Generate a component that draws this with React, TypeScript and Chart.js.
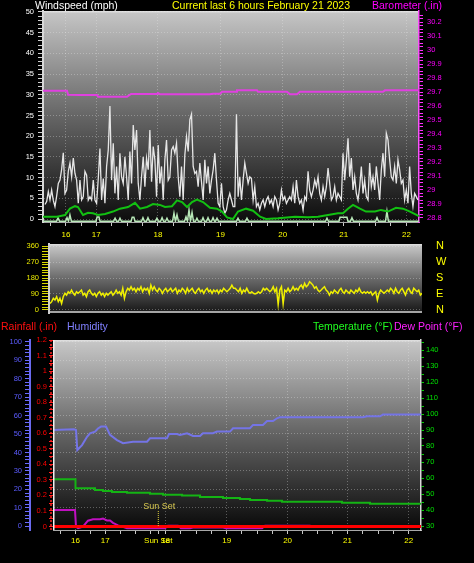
import React, { useEffect, useRef } from 'react';
import { Chart, registerables } from 'chart.js';

Chart.register(...registerables);

const FONT = '"Liberation Sans", Arial, Helvetica, sans-serif';

// ---------- shared time axis (sample index over the last 6 hours) ----------
const xMin = 0;
const xMax = 360;
const hourTickIdx = [22, 51, 110, 170, 229.5, 288, 348];
const hourLabels = ['16', '17', '18', '19', '20', '21', '22'];
const sunsetIdx = 103;
const sunsetLabel = 'Sun Set';

// ---------- panel 1: wind speed & barometer ----------
const windTicks = [0, 5, 10, 15, 20, 25, 30, 35, 40, 45, 50];
const baroTicks = [28.8, 28.9, 29, 29.1, 29.2, 29.3, 29.4, 29.5, 29.6, 29.7, 29.8, 29.9, 30, 30.1, 30.2];

const gustStartIdx = 1.9;
const gustEndIdx = 359;
const gustMph = [
  3.5, 4.2, 6.6, 4.6, 7, 4.5, 3, 5.5, 8.6, 9.4,
  12, 16, 6.2, 7, 11.5, 13.5, 10.2, 14.7, 11, 9.4,
  3.8, 9.4, 4.6, 5.4, 11.5, 10.6, 4.6, 5.4, 4.6, 9.4,
  4.6, 3.8, 9.8, 17, 4.6, 9.8, 3.8, 12.7, 16.7, 27.3,
  9.4, 18.3, 6.2, 12.7, 4.6, 15.9, 10.2, 8.6, 15, 10.2,
  4.6, 16.3, 8.6, 22.7, 16.7, 21.5, 8.6, 4.6, 10.2, 15,
  7.8, 14.7, 11.9, 21.5, 9, 17.5, 14.3, 5.4, 17.9, 8.6,
  12.7, 4.6, 14.3, 19.1, 9.4, 10.2, 16.7, 17.5, 15.9, 18.3,
  10.2, 5.4, 12.7, 4.6, 15.5, 19.9, 16.3, 24, 25.3, 12.7,
  11, 11.5, 7.8, 13.5, 9, 4.6, 14.3, 8.6, 12.7, 6.2,
  9.4, 11.9, 15.9, 9.4, 3.8, 3, 8.6, 3, 1.4, 2.2,
  4.6, 6.2, 4.6, 3,
  3, 25.3, 5.4, 10.2, 4.6, 9.4, 13.5, 11, 8.6, 10.2,
  9.8, 4.6, 7.8, 3, 3.8, 2.2, 3.8, 4.6, 3, 4.6,
  5.4, 3.8, 4.6, 3, 5.4, 4.6, 2.2, 3.8, 7, 4.6,
  5.4, 3.8, 4.6, 5.4, 4.6, 7.8, 3.8, 9.4, 5.4, 3.8,
  4.6, 2.2, 5.4, 4.6, 11.5, 7, 5.4, 7, 9.4, 7.8,
  10.2, 6.2, 4.6, 7.8, 5.4, 7.8, 12.3, 8.6, 4.6, 5.4,
  7.8, 4.6, 6.2, 5.4, 4.6, 15.9, 9.4, 14.3, 19.5, 10.2,
  14.7, 7, 10.2, 6.2, 4.6, 7.8, 12.7, 6.2, 9.4, 5.4,
  4.6, 13.5, 7.8, 10.2, 7, 12.7, 8.6, 4.6, 11.9, 15.9,
  10.2, 20.7, 19.1, 14.3, 10.2, 9.4, 12.7, 8.6, 14.3, 11.9,
  8.6, 9.4, 4.6, 7, 3.8, 12.7, 6.2, 3, 6.2, 5.4,
  4.6,
];

const avgIdx = [
  0, 13.4, 21.1, 25.8, 30.6, 33.5, 38.3, 43.1, 47.9, 52.7,
  59.4, 67, 73.7, 81.4, 88.1, 92.9, 99.6, 105.3, 112, 116.8,
  123.5, 128.3, 133.1, 137.9, 142.7, 147.4, 153.2, 159.9, 166.6, 171.4,
  176.2, 181.9, 186.7, 194.4, 201.1, 207.8, 213.5, 225, 241.3, 253.7,
  263.3, 272.9, 282.4, 287.2, 292, 296.8, 303.5, 309.2, 317.9, 323.6,
  330.3, 338, 344.7, 351.4, 360,
];
const avgMph = [
  0.56, 0.56, 0.97, 2.5, 3.1, 2.9, 0.97, 1.5, 1.4, 0.97,
  1.2, 1.8, 2.5, 2.9, 3.9, 2.5, 2.9, 3.6, 3.4, 2.9,
  3.1, 4.5, 4.1, 2.9, 4.1, 4.7, 4.1, 2.7, 2.5, 1.8,
  0.4, 0, 1.8, 2.5, 2.0, 0.56, 0, 0.16, 0.56, 0.4,
  0.56, 0.97, 1.4, 1.4, 2.5, 3.4, 2.5, 1.8, 1.8, 2.2,
  1.8, 2.7, 2.5, 1.8, 0.7,
];

const lullIdx = [
  0, 13, 14.4, 15.8, 21.6, 23, 24.4, 25.8, 27.2, 50.8, 51.8, 53.6, 54.6,
  67.6, 69, 70.4, 72.3, 73.7, 75.1, 84.3, 85.4, 87, 88.1, 94.3, 95.7, 97.1,
  99.1, 100.5, 101.9, 107.7, 109.1, 110.5, 112.6, 114, 115.4, 117.3, 118.7, 120.1,
  124, 125.4, 126.8, 128.3, 129.7, 135.5, 136.9, 138.3, 139.8, 141.2, 142.7, 144.1,
  146, 147.4, 148.8, 151.8, 153.2, 154.6, 156.6, 158, 159.4, 161.4, 162.8, 164.2,
  165.2, 166.6, 168, 185.3, 186.7, 188.1, 193.9, 195.3, 196.7, 270.5, 271.9, 273.3,
  283.4, 284.4, 291, 292, 294.4, 295.8, 297.2, 318.4, 319.8, 321.2, 327.9, 329.3, 330.7, 360,
];
const lullMph = [
  -0.55, -0.55, 0.3, -0.55, -0.55, 0.3, -0.55, 1.0, -0.55, -0.55, 0.5, 0.5, -0.55,
  -0.55, 0.2, -0.55, -0.55, 0.2, -0.55, -0.55, 0.4, 0.4, -0.55, -0.55, 0.3, -0.55,
  -0.55, 0.3, -0.55, -0.55, 0.2, -0.55, -0.55, 0.3, -0.55, -0.55, 0.2, -0.55,
  -0.55, 1.4, -0.55, 1.0, -0.55, -0.55, 0.5, -0.55, 2.2, -0.55, 1.6, -0.55,
  -0.55, 0.2, -0.55, -0.55, 0.3, -0.55, -0.55, 0.3, -0.55, -0.55, 0.3, -0.55,
  -0.55, 0.2, -0.55, -0.55, 0.2, -0.55, -0.55, 0.2, -0.55, -0.55, 0.2, -0.55,
  -0.55, 0.4, 0.4, -0.55, -0.55, 0.3, -0.55, -0.55, 0.3, -0.55, -0.55, 1.9, -0.55, -0.55,
];

const baroIdx = [
  0, 23, 24, 35.4, 51.7, 52.7, 80.4, 84.3, 109.1, 110.1, 112, 159.9, 162.8,
  169.5, 171.4, 184.8, 185.7, 204.9, 205.9, 233.6, 236.5, 243.2, 246, 325.5, 327.4, 360,
];
const baroIn = [
  29.709, 29.709, 29.681, 29.679, 29.679, 29.666, 29.666, 29.686, 29.686, 29.693, 29.684, 29.684, 29.688,
  29.688, 29.702, 29.702, 29.712, 29.712, 29.702, 29.702, 29.684, 29.684, 29.702, 29.702, 29.712, 29.712,
];

// ---------- panel 2: wind direction ----------
const dirTicks = [0, 90, 180, 270, 360];
const dirLetters = ['N', 'E', 'S', 'W', 'N'];
const dirStartIdx = 1;
const dirEndIdx = 360;
const dirDeg = [
  37, 47, 66, 56, 75, 47, 66, 37, 75, 94,
  84, 103, 94, 112, 94, 84, 103, 94, 103, 112,
  84, 94, 75, 103, 112, 94, 84, 94, 75, 94,
  103, 84, 94, 75, 94, 84, 94, 103, 84, 94,
  112, 94, 103, 84, 122, 66, 103, 122, 112, 131,
  112, 122, 103, 122, 112, 131, 103, 122, 112, 122,
  94, 140, 112, 131, 112, 103, 122, 112, 94, 112,
  122, 103, 112, 122, 103, 112, 122, 94, 112, 103,
  122, 112, 94, 122, 103, 112, 122, 103, 94, 112,
  122, 103, 112, 94, 112, 122, 103, 112, 94, 112,
  103, 112, 94, 112, 103, 122, 112, 103, 112, 122,
  140, 122,
  122, 112, 103, 122, 94, 112, 103, 122, 103, 94,
  103, 94, 90, 94, 103, 94, 103, 122, 112, 122,
  112, 103, 112, 131, 103, 122, 32, 112, 131, 35,
  112, 103, 122, 103, 112, 131, 112, 122, 112, 131,
  140, 122, 150, 131, 140, 159, 150, 140, 122, 131,
  112, 103, 112, 122, 131, 112, 103, 84, 103, 94,
  112, 103, 94, 112, 122, 103, 94, 112, 103, 94,
  112, 103, 94, 112, 103, 122, 103, 94, 103, 94,
  103, 94, 103, 84, 94, 103, 56, 94, 112, 103,
  94, 103, 112, 103, 122, 112, 94, 122, 103, 94,
  112, 122, 103, 84, 112, 122, 103, 94, 122, 112,
  103, 112, 84, 94,
];

// ---------- panel 3: rainfall, humidity, temperature, dew point ----------
const humTicks = [0, 10, 20, 30, 40, 50, 60, 70, 80, 90, 100];
const rainTicks = [0, 0.1, 0.2, 0.3, 0.4, 0.5, 0.6, 0.7, 0.8, 0.9, 1, 1.1, 1.2];
const tempTicks = [30, 40, 50, 60, 70, 80, 90, 100, 110, 120, 130, 140];

const humIdx = [
  0, 20.5, 22.5, 23.8, 28.4, 33.3, 36.2, 41.1, 44, 47,
  51.9, 55.8, 62.6, 68.5, 78.3, 92, 94.9, 111.5, 113.5, 121.3,
  124.2, 131.1, 137, 143.8, 146.7, 156.5, 160.4, 173.2, 176.1, 192.7,
  195.7, 205.4, 209.4, 215.2, 219.1, 222.1, 303.3, 307.2, 319.9, 322.8, 360,
];
const humPct = [
  52.2, 52.5, 52.2, 41.3, 44, 48.5, 50.4, 51.3, 53, 54,
  54, 49.5, 46.7, 45, 45.8, 45.8, 47.7, 47.7, 50, 50,
  49.5, 50.4, 48.9, 48.9, 50.4, 50.4, 51.3, 51.3, 53.1, 53.1,
  54.9, 54.9, 57, 57, 58.5, 59.1, 59.1, 59.6, 59.6, 60.5, 60.5,
];

const tempIdx = [0, 22, 41.1, 48.9, 57.7, 72.4, 94.9, 107.6, 126.2, 143.8, 166.3, 182.9, 192.7, 209.4, 224, 282.7, 310.1, 360];
const tempF = [59.2, 53.6, 52.5, 51.9, 51.2, 50.8, 50.2, 49.6, 49, 48.1, 47.5, 46.9, 46.2, 45.8, 45.2, 44.6, 43.9, 43.9];

const dewIdx = [
  0, 21.5, 22.5, 24.5, 29.3, 34.2, 39.1, 46, 48.9, 52.8,
  55.8, 58.7, 63.6, 67.5, 72.4, 109.6, 112.5, 122.3, 125.2, 134,
  137, 166.3, 169.2, 204.5, 207.4, 251.4, 254.4, 360,
];
const dewF = [
  40, 40, 29.6, 28.6, 29.6, 33.3, 34.2, 34.2, 34.6, 33.5,
  33.5, 32, 30.4, 29.6, 28.6, 28.6, 30.2, 30.2, 28.6, 28.6,
  29, 29, 28.6, 28.6, 30.2, 30.2, 29.4, 29.4,
];

const rainIdx = [0, 60, 120, 180, 240, 300, 360];
const rainIn = [0, 0, 0, 0, 0, 0, 0];

// ---------- helpers ----------
const even = (vals: number[], a: number, b: number) =>
  vals.map((v, i) => ({ x: a + (i * (b - a)) / (vals.length - 1), y: v }));
const pairs = (xs: number[], ys: number[]) => xs.map((x, i) => ({ x, y: ys[i] }));
const near = (v: number, arr: number[]) => arr.findIndex((a) => Math.abs(a - v) < 1e-6);
const steps = (first: number, last: number, step: number) => {
  const n = Math.round((last - first) / step);
  const out: number[] = [];
  for (let k = 0; k <= n; k++) out.push(+(first + k * step).toFixed(4));
  return out;
};
const fmt1 = (v: number) => String(parseFloat(v.toFixed(2)));

const QUARTER = 14.75;
const xTickValues = (extra: number[]) => {
  const out: number[] = [hourTickIdx[0] - QUARTER];
  for (let i = 0; i < hourTickIdx.length - 1; i++) {
    const a = hourTickIdx[i];
    const b = hourTickIdx[i + 1];
    const parts = Math.max(1, Math.round((b - a) / QUARTER));
    for (let k = 0; k < parts; k++) out.push(a + (k * (b - a)) / parts);
  }
  out.push(hourTickIdx[hourTickIdx.length - 1]);
  return [...out, ...extra].sort((p, q) => p - q);
};

const GRID = 'rgba(235,235,235,0.32)';
const NONE = 'rgba(0,0,0,0)';
const xFont = { family: FONT, size: 8 };

const majorGrid = (majors: number[]) => (c: any) =>
  c.tick && near(c.tick.value, majors) >= 0 ? GRID : NONE;

const yAxis = (o: {
  position: 'left' | 'right';
  min: number;
  max: number;
  all: number[];
  majors: number[];
  label: (v: number, i: number) => string;
  width: number;
  color: string;
  tickColor: string;
  tickLength: number;
  padding: number;
  grid: boolean;
  border?: { color: string; width: number } | null;
  weight?: number;
  fontSize?: number;
}) => ({
  type: 'linear',
  position: o.position,
  weight: o.weight ?? 0,
  min: o.min,
  max: o.max,
  afterBuildTicks: (a: any) => {
    a.ticks = o.all.map((v) => ({ value: v }));
  },
  afterFit: (a: any) => {
    a.width = o.width;
  },
  ticks: {
    autoSkip: false,
    color: o.color,
    padding: o.padding,
    font: { family: FONT, size: o.fontSize ?? 7.5 },
    callback: (v: number, i: number) => o.label(v, i),
  },
  grid: {
    drawOnChartArea: o.grid,
    drawTicks: true,
    color: o.grid ? majorGrid(o.majors) : NONE,
    tickColor: o.tickColor,
    tickLength: o.tickLength,
    lineWidth: 1,
  },
  border: o.border
    ? { display: true, color: o.border.color, width: o.border.width, dash: [1, 2] }
    : { display: false, dash: [1, 2] },
});

const xAxis = (o: { extra: number[]; sunset: boolean; height: number; padding: number; display: boolean; gridOn: boolean }) => ({
  type: 'linear',
  min: xMin,
  max: xMax,
  display: o.display,
  afterBuildTicks: (a: any) => {
    a.ticks = xTickValues(o.extra).map((v) => ({ value: v }));
  },
  afterFit: (a: any) => {
    a.height = o.height;
  },
  ticks: {
    autoSkip: false,
    maxRotation: 0,
    minRotation: 0,
    color: '#ffff00',
    padding: o.padding,
    font: xFont,
    callback: (v: number) => {
      const i = near(v, hourTickIdx);
      if (i >= 0) return hourLabels[i];
      if (o.sunset && Math.abs(v - sunsetIdx) < 1e-6) return sunsetLabel;
      return '';
    },
  },
  grid: {
    drawOnChartArea: o.gridOn,
    color: (c: any) => (c.tick && near(c.tick.value, hourTickIdx) >= 0 ? GRID : NONE),
    tickColor: '#c8c8c8',
    tickLength: 4,
  },
  border: { display: true, color: '#a8a8a8', width: 1, dash: [1, 2] },
});

type Txt = { text: string; x: number; y: number; color: string; size?: number };
const textPlugin = (id: string, items: Txt[]) => ({
  id,
  afterDraw(chart: any) {
    const { ctx } = chart;
    ctx.save();
    ctx.textBaseline = 'middle';
    ctx.textAlign = 'left';
    for (const t of items) {
      ctx.font = `${t.size ?? 10.5}px ${FONT}`;
      ctx.fillStyle = t.color;
      ctx.fillText(t.text, t.x, t.y);
    }
    ctx.restore();
  },
});

const bgPlugin = (stops: [number, string][], bottomEdge?: string) => ({
  id: 'panelBg',
  beforeDraw(chart: any) {
    const { ctx, chartArea: a } = chart;
    ctx.save();
    const g = ctx.createLinearGradient(0, a.top, 0, a.bottom);
    stops.forEach(([o, c]) => g.addColorStop(o, c));
    ctx.fillStyle = g;
    ctx.fillRect(a.left, a.top, a.right - a.left, a.bottom - a.top);
    ctx.fillStyle = 'rgba(225,225,225,0.85)';
    ctx.fillRect(a.left, a.top, a.right - a.left, 1.5);
    if (bottomEdge) {
      ctx.fillStyle = bottomEdge;
      ctx.fillRect(a.left, a.bottom - 2, a.right - a.left, 2);
    }
    ctx.restore();
  },
});

const panel3Marks = {
  id: 'panel3Marks',
  afterDatasetsDraw(chart: any) {
    const { ctx, chartArea: a, scales } = chart;
    ctx.save();
    ctx.lineWidth = 1.5;
    ctx.strokeStyle = '#ff2020';
    ctx.setLineDash([2, 2]);
    ctx.beginPath();
    ctx.moveTo(a.left - 2, a.top);
    ctx.lineTo(a.left - 2, a.bottom);
    ctx.stroke();
    ctx.setLineDash([]);
    ctx.strokeStyle = '#f0f0f0';
    ctx.beginPath();
    ctx.moveTo(a.left + 0.75, a.top);
    ctx.lineTo(a.left + 0.75, a.bottom);
    ctx.stroke();
    const sx = scales.x.getPixelForValue(sunsetIdx);
    ctx.strokeStyle = '#e0d040';
    ctx.lineWidth = 1;
    ctx.setLineDash([1, 1]);
    ctx.beginPath();
    ctx.moveTo(sx, a.bottom - 19);
    ctx.lineTo(sx, a.bottom - 3);
    ctx.stroke();
    ctx.setLineDash([]);
    ctx.font = `9px ${FONT}`;
    ctx.fillStyle = '#d8c850';
    ctx.textAlign = 'center';
    ctx.textBaseline = 'middle';
    ctx.fillText(sunsetLabel, sx + 1, a.bottom - 23);
    ctx.restore();
  },
};

const line = (data: any[], color: string, width: number, yAxisID: string, order: number, extra: any = {}) => ({
  data,
  borderColor: color,
  backgroundColor: color,
  borderWidth: width,
  pointRadius: 0,
  tension: 0,
  fill: false,
  yAxisID,
  order,
  ...extra,
});

const common = {
  responsive: false,
  animation: false,
  events: [],
  plugins: { legend: { display: false }, tooltip: { enabled: false }, title: { display: false } },
};

const windAll = steps(0, 50, 1);
const baroAll = steps(28.8, 30.25, 0.025);
const dirAll = steps(0, 360, 15);
const humAll = steps(0, 100, 2);
const rainAll = steps(0, 1.2, 0.05);
const tempAll = steps(30, 145, 5);

function config1(): any {
  return {
    type: 'line',
    data: {
      datasets: [
        line(pairs(baroIdx, baroIn), '#e040e0', 2, 'yb', 0),
        line(pairs(avgIdx, avgMph), '#12c012', 2, 'y', 1),
        line(pairs(lullIdx, lullMph), '#b8e8b8', 1.5, 'y', 2),
        line(even(gustMph, gustStartIdx, gustEndIdx), '#e6e6e6', 1.3, 'y', 3),
      ],
    },
    options: {
      ...common,
      layout: { autoPadding: false, padding: { top: 11, left: 0, right: 0, bottom: 0 } },
      scales: {
        x: xAxis({ extra: [], sunset: false, height: 18, padding: 4, display: true, gridOn: true }),
        y: yAxis({
          position: 'left', min: -0.72, max: 50.24, all: windAll, majors: windTicks,
          label: (v) => (near(v, windTicks) >= 0 ? String(v) : ''),
          width: 43, color: '#ffffff', tickColor: '#d0d0d0', tickLength: 5, padding: 4, grid: true,
          border: { color: '#d8d8d8', width: 2 },
        }),
        yb: yAxis({
          position: 'right', min: 28.771, max: 30.279, all: baroAll, majors: baroTicks,
          label: (v) => (near(v, baroTicks) >= 0 ? fmt1(v) : ''),
          width: 55, color: '#ff00ff', tickColor: '#ff30ff', tickLength: 4, padding: 4, grid: false,
          border: { color: '#ff50ff', width: 1.5 },
        }),
      },
    },
    plugins: [
      bgPlugin([[0, '#c6c6c6'], [0.5, '#656565'], [1, '#0c0c0c']]),
      textPlugin('titles1', [
        { text: 'Windspeed (mph)', x: 35, y: 6, color: '#ffffff' },
        { text: 'Current last 6 hours February 21 2023', x: 172, y: 6, color: '#ffff00' },
        { text: 'Barometer (.in)', x: 372, y: 6, color: '#ff00ff' },
      ]),
    ],
  };
}

function config2(): any {
  return {
    type: 'line',
    data: {
      datasets: [line(even(dirDeg, dirStartIdx, dirEndIdx), '#f0f000', 1.5, 'y', 0)],
    },
    options: {
      ...common,
      layout: { autoPadding: false, padding: { top: 16, left: 0, right: 0, bottom: 15 } },
      scales: {
        x: xAxis({ extra: [], sunset: false, height: 0, padding: 0, display: false, gridOn: false }),
        y: yAxis({
          position: 'left', min: -16.9, max: 371.3, all: dirAll, majors: dirTicks,
          label: (v) => (near(v, dirTicks) >= 0 ? String(v) : ''),
          width: 49, color: '#e8e800', tickColor: '#d8d800', tickLength: 7, padding: 3, grid: true,
          border: { color: '#d0d0d0', width: 2 },
        }),
        y2: yAxis({
          position: 'right', min: -16.9, max: 371.3, all: dirTicks, majors: dirTicks,
          label: (_v, i) => dirLetters[i],
          width: 52, color: '#ffff00', tickColor: NONE, tickLength: 14, padding: 0, grid: false,
          border: null, fontSize: 11,
        }),
      },
    },
    plugins: [bgPlugin([[0, '#cacaca'], [0.5, '#6a6a6a'], [1, '#161616']], 'rgba(200,200,200,0.8)')],
  };
}

function config3(): any {
  return {
    type: 'line',
    data: {
      datasets: [
        line(pairs(rainIdx, rainIn), '#ff0000', 3, 'yr', 0),
        line(pairs(tempIdx, tempF), '#14b414', 2, 'yt', 1, { stepped: 'before' }),
        line(pairs(humIdx, humPct), '#7474e6', 2, 'yh', 2),
        line(pairs(dewIdx, dewF), '#c010c0', 2, 'yt', 3),
      ],
    },
    options: {
      ...common,
      layout: { autoPadding: false, padding: { top: 20, left: 0, right: 0, bottom: 0 } },
      scales: {
        x: xAxis({ extra: [sunsetIdx], sunset: true, height: 33, padding: 2, display: true, gridOn: true }),
        yh: yAxis({
          position: 'left', weight: 1, min: -2.0, max: 100.9, all: humAll, majors: humTicks,
          label: (v) => (near(v, humTicks) >= 0 ? String(v) : ''),
          width: 30, color: '#5c5cff', tickColor: '#6a6aff', tickLength: 5, padding: 3, grid: true,
          border: { color: '#6a6af0', width: 2 },
        }),
        yr: yAxis({
          position: 'left', weight: 0, min: -0.0225, max: 1.2, all: rainAll, majors: rainTicks,
          label: (v) => (near(v, rainTicks) >= 0 ? fmt1(v) : ''),
          width: 23, color: '#ff0000', tickColor: '#ff2020', tickLength: 4, padding: 2, grid: false,
          border: null,
        }),
        yt: yAxis({
          position: 'right', min: 27.5, max: 146.25, all: tempAll, majors: tempTicks,
          label: (v) => (near(v, tempTicks) >= 0 ? String(v) : ''),
          width: 53, color: '#00e000', tickColor: '#00d000', tickLength: 3, padding: 2, grid: false,
          border: { color: '#d8d8d8', width: 1.5 },
        }),
      },
    },
    plugins: [
      bgPlugin([[0, '#c8c8c8'], [0.5, '#626262'], [1, '#080808']]),
      panel3Marks,
      textPlugin('titles3', [
        { text: 'Rainfall (.in)', x: 1, y: 7, color: '#ff1010' },
        { text: 'Humidity', x: 67, y: 7, color: '#8080ff' },
        { text: 'Temperature (°F)', x: 313, y: 7, color: '#20ff20' },
        { text: 'Dew Point (°F)', x: 394, y: 7, color: '#ff20ff' },
      ]),
    ],
  };
}

export default function App() {
  const r1 = useRef<HTMLCanvasElement>(null);
  const r2 = useRef<HTMLCanvasElement>(null);
  const r3 = useRef<HTMLCanvasElement>(null);

  useEffect(() => {
    const c1 = new Chart(r1.current as HTMLCanvasElement, config1());
    const c2 = new Chart(r2.current as HTMLCanvasElement, config2());
    const c3 = new Chart(r3.current as HTMLCanvasElement, config3());
    return () => {
      c1.destroy();
      c2.destroy();
      c3.destroy();
    };
  }, []);

  return (
    <div style={{ position: 'fixed', left: 0, top: 0, width: 474, height: 563, background: '#000', overflow: 'hidden' }}>
      <canvas ref={r1} width={474} height={240} style={{ position: 'absolute', left: 0, top: 0, width: 474, height: 240 }} />
      <canvas ref={r3} width={474} height={243} style={{ position: 'absolute', left: 0, top: 320, width: 474, height: 243 }} />
      <canvas ref={r2} width={474} height={100} style={{ position: 'absolute', left: 0, top: 228, width: 474, height: 100 }} />
    </div>
  );
}
